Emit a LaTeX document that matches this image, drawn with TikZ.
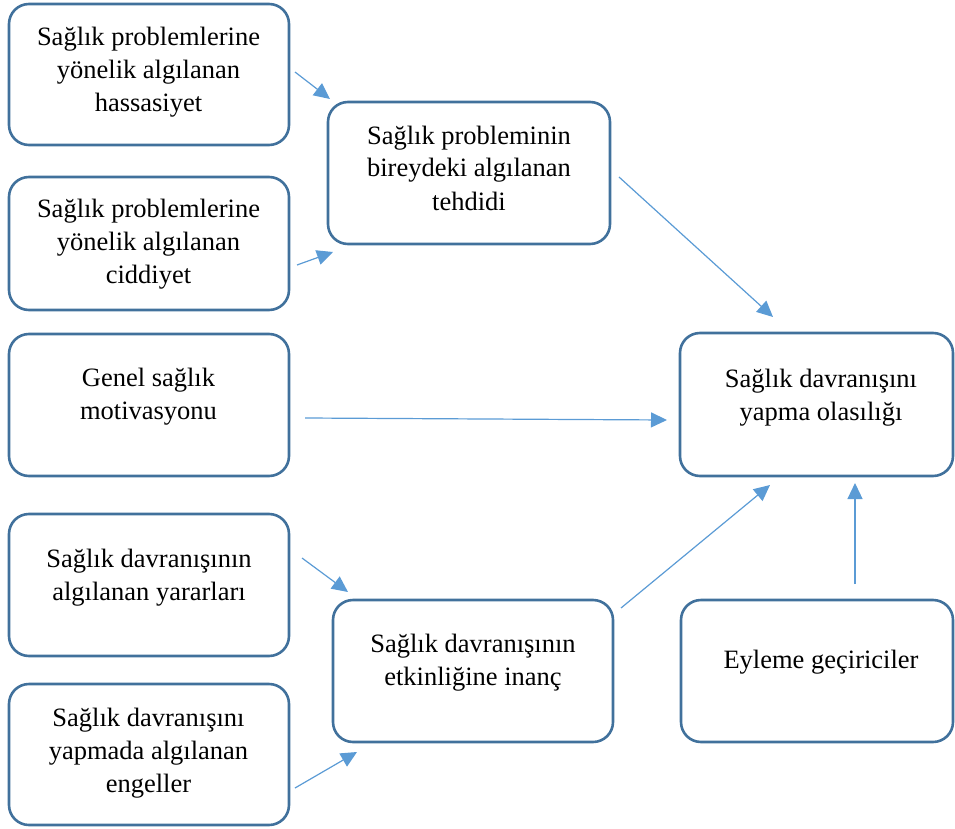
\documentclass[tikz,border=0pt]{standalone}
\usepackage{fontspec}
\setmainfont{Liberation Serif}
\usetikzlibrary{arrows.meta}
\definecolor{boxborder}{HTML}{41719C}
\definecolor{arrowblue}{HTML}{5B9BD5}
\tikzset{
  box/.style={draw=boxborder, line width=2.6pt, rounded corners=20pt},
  lbl/.style={font=\fontsize{26.5}{33}\selectfont, align=center, anchor=base, inner sep=0pt},
  conn/.style={draw=arrowblue, line width=1.2pt, -{Triangle[length=16pt,width=15pt]}}
}
\begin{document}
\begin{tikzpicture}[x=1pt,y=-1pt]
\useasboundingbox (0,0) rectangle (955,829);
% boxes
\draw[box] (9,4) rectangle (289,145);
\draw[box] (9,177) rectangle (289,310);
\draw[box] (9,334) rectangle (289,476);
\draw[box] (9,514) rectangle (289,656);
\draw[box] (9,684) rectangle (289,825);
\draw[box] (328,102) rectangle (610,244);
\draw[box] (680,333) rectangle (953,476);
\draw[box] (333,600) rectangle (613,742);
\draw[box] (681,600) rectangle (953,742);
% labels (anchored at the baseline of their last line)
\node[lbl] (A) at (148.5,112) {Sağlık problemlerine\\yönelik algılanan\\hassasiyet};
\node[lbl] (B) at (148.5,283) {Sağlık problemlerine\\yönelik algılanan\\ciddiyet};
\node[lbl] (C) at (148.5,419) {Genel sağlık\\motivasyonu};
\node[lbl] (D) at (149,600) {Sağlık davranışının\\algılanan yararları};
\node[lbl] (E) at (148.5,792) {Sağlık davranışını\\yapmada algılanan\\engeller};
\node[lbl] (F) at (469,210) {Sağlık probleminin\\bireydeki algılanan\\tehdidi};
\node[lbl] (G) at (821,420) {Sağlık davranışını\\yapma olasılığı};
\node[lbl] (H) at (473,685) {Sağlık davranışının\\etkinliğine inanç};
\node[lbl] (I) at (821,668) {Eyleme geçiriciler};
% connector end points
\coordinate (a1) at (295,72);  \coordinate (f1) at (330,99);
\coordinate (b1) at (297,265); \coordinate (f2) at (333,252);
\coordinate (f3) at (619,177); \coordinate (g1) at (773,317);
\coordinate (c1) at (305,418); \coordinate (g2) at (667,420);
\coordinate (d1) at (302,558); \coordinate (h1) at (348,592);
\coordinate (e1) at (295,788); \coordinate (h2) at (357,752);
\coordinate (h3) at (621,608); \coordinate (g3) at (770,485);
\coordinate (i1) at (855,584); \coordinate (g4) at (855,483);
% connectors
\draw[conn] (a1) -- (f1);
\draw[conn] (b1) -- (f2);
\draw[conn] (f3) -- (g1);
\draw[conn] (c1) -- (g2);
\draw[conn] (d1) -- (h1);
\draw[conn] (e1) -- (h2);
\draw[conn] (h3) -- (g3);
\draw[conn] (i1) -- (g4);
\end{tikzpicture}
\end{document}
